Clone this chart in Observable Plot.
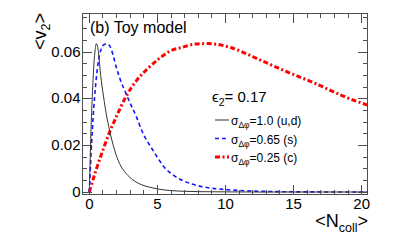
<!DOCTYPE html>
<html><head><meta charset="utf-8">
<script src="https://cdn.jsdelivr.net/npm/d3@7"></script>
<script src="https://cdn.jsdelivr.net/npm/@observablehq/plot@0.6"></script>
<style>
html,body{margin:0;padding:0;background:#fff;}
svg{display:block;}
</style>
</head><body><div id="chart"></div>
<script>
// sigma = 1.0 (u,d)
const nUD = [0, 0.05, 0.12, 0.22, 0.34, 0.43, 0.51, 0.6, 0.69, 0.8, 0.88, 1.05, 1.24, 1.49, 1.86, 2.22, 2.71, 3.2, 3.8, 4.4, 5, 6, 7, 8, 10, 12, 20.5];
const vUD = [0, 0.011, 0.026, 0.041, 0.055, 0.061, 0.0636, 0.0625, 0.059, 0.052, 0.0478, 0.0407, 0.0336, 0.0264, 0.0179, 0.0122, 0.0079, 0.0052, 0.0032, 0.0021, 0.0013, 0.0006, 0.0003, 0.00015, 0.00005, 0, 0];
// sigma = 0.65 (s)
const nS = [0, 0.1, 0.22, 0.39, 0.64, 0.88, 1.1, 1.3, 1.5, 1.73, 2.0, 2.22, 2.71, 3.0, 3.44, 3.9, 4.76, 5.49, 6.2, 7.44, 8.66, 10.1, 12, 14, 16, 20.5];
const vS = [0, 0.013, 0.0264, 0.0407, 0.055, 0.0614, 0.0632, 0.0635, 0.0626, 0.059, 0.053, 0.049, 0.042, 0.038, 0.0325, 0.0257, 0.0171, 0.0107, 0.0071, 0.0036, 0.0019, 0.001, 0.0004, 0.00015, 0.00005, 0];
// sigma = 0.25 (c)
const nC = [0, 0.5, 1.0, 1.5, 2.0, 2.7, 3.5, 4.4, 5.2, 5.9, 6.8, 7.8, 8.5, 9.2, 10.5, 12.2, 14.2, 16.6, 19.05, 20.45];
const vC = [0, 0.0095, 0.018, 0.0258, 0.0325, 0.041, 0.048, 0.0535, 0.0575, 0.0603, 0.062, 0.0634, 0.0636, 0.0634, 0.0617, 0.0575, 0.0523, 0.0465, 0.0401, 0.0372];

const xDomain = [-0.5, 20.5];
const yDomain = [-0.0015, 0.0765];
const xMajor = [0, 5, 10, 15, 20];
const xMinor = [0,1,2,3,4,6,7,8,9,11,12,13,14,16,17,18,19];
const yMajor = [0, 0.02, 0.04, 0.06];
const yMinor = [0.005,0.01,0.015,0.025,0.03,0.035,0.045,0.05,0.055,0.065,0.07,0.075];
const yLabels = ["0", "0.02", "0.04", "0.06"];

const legendLabels = ["1.0 (u,d)", "0.65 (s)", "0.25 (c)"];
const legendColors = ["#333333", "#1515ff", "#ff0000"];
const legendWidths = [1, 1.6, 3];
const legendDash = [null, "4,3", "5,2.5,2,2.5"];

const toRows = (ns, vs) => ns.map((n, i) => ({n, v: vs[i]}));
const W = 409, H = 245, mL = 82, mR = 41, mT = 13, mB = 50;
const tickCol = "#4d4d4d";

const plot = Plot.plot({
  width: W, height: H,
  marginLeft: mL, marginRight: mR, marginTop: mT, marginBottom: mB,
  style: {fontFamily: "Liberation Sans, Arial, sans-serif", background: "#ffffff", color: "#000000"},
  x: {domain: xDomain},
  y: {domain: yDomain},
  marks: [
    Plot.line(toRows(nC, vC), {x: "n", y: "v", stroke: legendColors[2], strokeWidth: legendWidths[2], strokeDasharray: legendDash[2], strokeLinecap: "butt", curve: "monotone-x", clip: true}),
    Plot.line(toRows(nS, vS), {x: "n", y: "v", stroke: legendColors[1], strokeWidth: legendWidths[1], strokeDasharray: legendDash[1], strokeLinecap: "butt", curve: "monotone-x", clip: true}),
    Plot.line(toRows(nUD, vUD), {x: "n", y: "v", stroke: legendColors[0], strokeWidth: legendWidths[0], curve: "monotone-x", clip: true}),
    Plot.axisX(xMajor, {tickSize: 0, tickPadding: 3, fontSize: 15, label: null}),
    Plot.axisY(yMajor, {tickSize: 0, tickPadding: 2, fontSize: 15, label: null, tickFormat: (d) => yLabels[yMajor.indexOf(d)]})
  ]
});
document.getElementById("chart").appendChild(plot);

const svg = d3.select(plot);
const sx = v => plot.scale("x").apply(v), sy = v => plot.scale("y").apply(v);
const [x0, x1] = xDomain, [y0, y1] = yDomain;
const L = Math.round(sx(x0)) + 0.5, R = Math.round(sx(x1)) - 0.5;
const B = Math.round(sy(y0)) - 0.5, Tp = Math.round(sy(y1)) + 0.5;
function seg(xa, ya, xb, yb, w) {
  svg.append("line").attr("x1", xa).attr("y1", ya).attr("x2", xb).attr("y2", yb)
    .attr("stroke", tickCol).attr("stroke-width", w || 1).attr("stroke-linecap", "square");
}
// frame
seg(L, B, R, B, 1); seg(L, Tp, R, Tp, 1); seg(L, Tp, L, B, 1); seg(R, Tp, R, B, 1);
// inward ticks through Plot's scales
function xt(vals, len) {
  vals.forEach(v => {
    const px = Math.round(sx(v)) + 0.5;
    seg(px, B, px, B - len); seg(px, Tp, px, Tp + len);
  });
}
function ytk(vals, len) {
  vals.forEach(v => {
    const py = Math.round(sy(v)) + 0.5;
    seg(L, py, L + len, py); seg(R, py, R - len, py);
  });
}
xt(xMinor, 4); xt(xMajor, 9); ytk(yMinor, 4); ytk(yMajor, 9);

const font = "Liberation Sans, Arial, sans-serif";
function T(x, y, size, anchor) {
  return svg.append("text").attr("x", x).attr("y", y).attr("font-size", size)
    .attr("font-family", font).attr("fill", "#000").attr("text-anchor", anchor || "start");
}
// y title
const yt = svg.append("text").attr("transform", "translate(46,13) rotate(-90)")
  .attr("text-anchor", "end").attr("font-size", 18).attr("font-family", font).attr("fill", "#000");
yt.append("tspan").text("<v");
yt.append("tspan").attr("font-size", 12.5).attr("dy", 4).text("2");
yt.append("tspan").attr("dy", -4).text(">");
// x title
const xtt = T(368, 227, 18, "end");
xtt.append("tspan").text("<N");
xtt.append("tspan").attr("font-size", 12.5).attr("dy", 5).text("coll");
xtt.append("tspan").attr("dy", -5).text(">");
// panel label
T(90, 33, 16).text("(b) Toy model");
// epsilon
const et = T(212, 101.5, 15);
et.append("tspan").text("\u03F5");
et.append("tspan").attr("font-size", 10.5).attr("dy", 4).text("2");
et.append("tspan").attr("dy", -4).text("= 0.17");
// legend
const base = [125, 143.5, 162];
legendLabels.forEach((lab, i) => {
  const l = svg.append("line").attr("x1", 215).attr("x2", 229).attr("y1", base[i] - 5).attr("y2", base[i] - 5)
    .attr("stroke", legendColors[i]).attr("stroke-width", legendWidths[i]);
  if (legendDash[i]) l.attr("stroke-dasharray", legendDash[i]);
  const t = T(231, base[i], 12);
  t.append("tspan").text("\u03C3");
  t.append("tspan").attr("font-size", 8.5).attr("dy", 3).text("\u0394\u03C6");
  t.append("tspan").attr("dy", -3).text("=" + lab);
});
</script>
</body></html>
